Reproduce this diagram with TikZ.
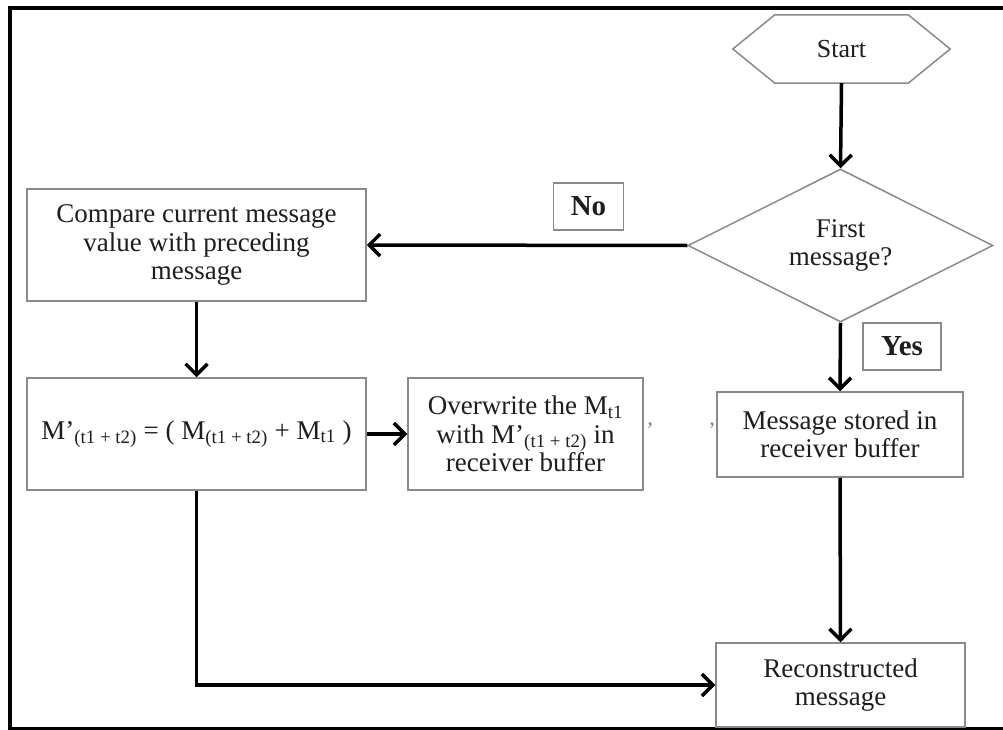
\documentclass[tikz,border=0pt]{standalone}
\usepackage{fontspec}
\setmainfont{Liberation Serif}
\usetikzlibrary{arrows.meta,shapes.geometric}

\definecolor{edgegray}{HTML}{8A8A8A}
\definecolor{inkgray}{HTML}{1E1E1E}

\tikzset{
  box/.style={draw=edgegray, line width=1.5pt, rectangle, inner sep=0pt,
              align=center, text=inkgray,
              font=\fontsize{27}{28.5}\selectfont},
  labelbox/.style={box, font=\fontsize{29}{30}\selectfont\bfseries},
  flow/.style={draw=black, line width=3.5pt,
               -{Straight Barb[length=11pt,width=22pt,line width=3.5pt]}},
  frameline/.style={draw=black, line width=3.8pt},
  tickmark/.style={text=gray, font=\fontsize{22}{22}\selectfont, inner sep=0pt}
}

\begin{document}
\begin{tikzpicture}[x=1pt, y=-1pt]
  \useasboundingbox (0,0) rectangle (1003,730);
  \fill[white] (0,0) rectangle (1003,730);

  % outer frame (right side runs off the page)
  \draw[frameline] (1030,8) -- (10,8) -- (10,729) -- (1030,729);

  % start terminator (stretched hexagon)
  \node[inner sep=0pt, minimum width=217pt, minimum height=68pt,
        text=inkgray, font=\fontsize{26}{28}\selectfont] (start) at (841.5,49) {Start};
  \draw[draw=edgegray, line width=1.5pt]
    (start.west) -- ([xshift=42pt]start.north west) -- ([xshift=-42pt]start.north east)
    -- (start.east) -- ([xshift=-42pt]start.south east) -- ([xshift=42pt]start.south west)
    -- cycle;

  % decision
  \node[box, shape=diamond, aspect=2, minimum width=305pt, minimum height=153pt]
    (first) at (840.5,245.5) {First\\message?};

  % branch labels
  \node[labelbox, minimum width=70pt, minimum height=47pt] (no) at (588.5,206.5) {No};
  \node[labelbox, minimum width=78pt, minimum height=47pt] (yes) at (902,346.5) {Yes};

  % process boxes
  \node[box, minimum width=339pt, minimum height=112pt] (compare) at (196.5,245)
    {Compare current message\\value with preceding\\message};
  \node[box, minimum width=339pt, minimum height=112pt] (formula) at (196.5,434)
    {M’\textsubscript{(t1 + t2)} = ( M\textsubscript{(t1 + t2)} + M\textsubscript{t1} )};
  \node[box, minimum width=235pt, minimum height=112pt] (overwrite) at (525.5,434)
    {Overwrite the M\textsubscript{t1}\\with M’\textsubscript{(t1 + t2)} in\\receiver buffer};
  \node[box, minimum width=246pt, minimum height=85pt] (stored) at (840,434.5)
    {Message stored in\\receiver buffer};
  \node[box, minimum width=249pt, minimum height=84pt] (recon) at (840.5,685)
    {Reconstructed\\message};

  % small stray ticks between the boxes
  \node[tickmark] (tickA) at (650,430) {’};
  \node[tickmark] (tickB) at (712,430) {’};

  % connectors
  \draw[flow] (start.south) -- (first.north);
  \draw[flow] (first.west) -- (compare.east);
  \draw[flow] (compare.south) -- (formula.north);
  \draw[flow] (formula.east) -- (overwrite.west);
  \draw[flow] (first.south) -- (stored.north);
  \draw[flow] (stored.south) -- (recon.north);
  \draw[flow] (formula.south) |- (recon.west);
\end{tikzpicture}
\end{document}
